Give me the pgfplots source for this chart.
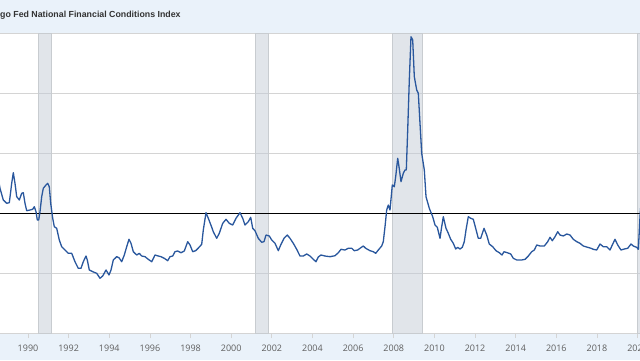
\documentclass[border=0pt]{standalone}
\usepackage{pgfplots}
\pgfplotsset{compat=1.18}
\usepackage{fontspec}
\setmainfont{Open Sans}
\newfontfamily\titlefont{Liberation Sans}
\definecolor{band}{RGB}{234,242,250}
\definecolor{gridc}{RGB}{212,212,212}
\definecolor{shadec}{RGB}{196,204,214}
\definecolor{shadeb}{RGB}{200,204,208}
\definecolor{linec}{RGB}{41,87,157}
\definecolor{titlec}{RGB}{51,51,51}
\definecolor{labc}{RGB}{95,95,95}
\begin{document}
\begin{tikzpicture}[x=1pt,y=1pt]
\begin{scope}
\clip (0,0) rectangle (640,360);
\fill[band] (0,0) rectangle (640,360);
\begin{axis}[at={(0pt,27pt)}, anchor=south west, scale only axis,
  width=640pt, height=300pt,
  xmin=1988.622, xmax=2020.118, ymin=-2, ymax=3,
  axis background/.style={fill=white},
  axis line style={draw=none},
  xtick={1990,1992,...,2020},
  ytick={-2,-1,0,1,2,3}, yticklabels={}, y tick style={draw=none},
  ymajorgrids=true, grid style={gridc, line width=1pt},
  x tick style={draw=gridc, line width=0.8pt},
  xtick pos=lower, tick align=outside, major tick length=5pt,
  /pgf/number format/1000 sep={},
  /pgf/number format/assume math mode=true,
  xticklabel style={font=\fontsize{9}{10}\selectfont, text=labc, anchor=base, yshift=-13.7pt},
]
\addplot[fill=shadec, fill opacity=0.5, draw=shadeb, line width=0.8pt] coordinates {(1990.50,-2) (1990.50,3) (1991.17,3) (1991.17,-2)} -- cycle;
\addplot[fill=shadec, fill opacity=0.5, draw=shadeb, line width=0.8pt] coordinates {(2001.17,-2) (2001.17,3) (2001.83,3) (2001.83,-2)} -- cycle;
\addplot[fill=shadec, fill opacity=0.5, draw=shadeb, line width=0.8pt] coordinates {(2007.92,-2) (2007.92,3) (2009.42,3) (2009.42,-2)} -- cycle;
\addplot[fill=shadec, fill opacity=0.5, draw=shadeb, line width=0.8pt] coordinates {(2019.97,-2) (2019.97,3) (2020.33,3) (2020.33,-2)} -- cycle;
\addplot[black, line width=1pt] coordinates {(1988,0) (2021,0)};
\addplot[linec, line width=1.3pt, line join=round] table {
1988.550 0.550
1988.622 0.412
1988.784 0.217
1988.952 0.162
1989.080 0.172
1989.198 0.495
1989.277 0.672
1989.360 0.495
1989.444 0.272
1989.572 0.217
1989.690 0.328
1989.769 0.338
1989.852 0.162
1989.936 0.038
1990.098 0.050
1990.231 0.062
1990.310 0.105
1990.394 0.022
1990.458 -0.117
1990.527 -0.117
1990.591 0.022
1990.674 0.272
1990.753 0.412
1990.886 0.467
1990.969 0.495
1991.048 0.438
1991.117 0.162
1991.216 -0.088
1991.294 -0.228
1991.412 -0.255
1991.540 -0.450
1991.658 -0.562
1991.821 -0.617
1991.983 -0.672
1992.151 -0.672
1992.313 -0.812
1992.475 -0.922
1992.608 -0.922
1992.721 -0.812
1992.854 -0.717
1992.918 -0.783
1993.017 -0.950
1993.184 -0.978
1993.381 -1.005
1993.543 -1.088
1993.676 -1.050
1993.839 -0.950
1993.986 -1.033
1994.085 -0.950
1994.198 -0.783
1994.365 -0.728
1994.478 -0.745
1994.611 -0.812
1994.739 -0.700
1994.857 -0.562
1994.970 -0.438
1995.069 -0.505
1995.182 -0.645
1995.349 -0.700
1995.477 -0.672
1995.596 -0.717
1995.758 -0.728
1995.920 -0.772
1996.088 -0.812
1996.250 -0.700
1996.413 -0.717
1996.545 -0.728
1996.708 -0.755
1996.875 -0.795
1996.988 -0.728
1997.121 -0.717
1997.234 -0.645
1997.367 -0.633
1997.530 -0.662
1997.692 -0.633
1997.859 -0.478
1997.972 -0.533
1998.105 -0.645
1998.253 -0.628
1998.415 -0.572
1998.548 -0.522
1998.627 -0.283
1998.760 0.005
1998.907 -0.117
1999.055 -0.250
1999.119 -0.312
1999.286 -0.422
1999.414 -0.338
1999.582 -0.172
1999.744 -0.105
1999.906 -0.172
2000.074 -0.200
2000.236 -0.088
2000.433 0.005
2000.566 -0.088
2000.679 -0.200
2000.842 -0.145
2000.960 -0.072
2001.058 -0.255
2001.171 -0.295
2001.334 -0.422
2001.501 -0.488
2001.614 -0.478
2001.713 -0.367
2001.875 -0.383
2001.993 -0.450
2002.156 -0.505
2002.318 -0.628
2002.436 -0.533
2002.598 -0.422
2002.761 -0.367
2002.894 -0.422
2003.056 -0.505
2003.223 -0.605
2003.386 -0.717
2003.548 -0.717
2003.715 -0.683
2003.878 -0.717
2004.040 -0.772
2004.173 -0.812
2004.286 -0.733
2004.419 -0.700
2004.616 -0.717
2004.862 -0.728
2005.108 -0.712
2005.271 -0.662
2005.404 -0.605
2005.600 -0.617
2005.762 -0.588
2005.930 -0.588
2006.058 -0.628
2006.225 -0.617
2006.339 -0.588
2006.501 -0.550
2006.619 -0.588
2006.831 -0.628
2006.993 -0.645
2007.111 -0.672
2007.239 -0.617
2007.406 -0.550
2007.485 -0.478
2007.569 -0.228
2007.652 0.050
2007.731 0.133
2007.815 0.050
2007.928 0.467
2008.026 0.438
2008.095 0.605
2008.194 0.912
2008.258 0.772
2008.356 0.522
2008.470 0.662
2008.553 0.717
2008.617 0.717
2008.686 1.383
2008.765 2.217
2008.848 2.938
2008.932 2.883
2009.011 2.272
2009.129 2.050
2009.208 1.995
2009.291 1.495
2009.375 0.995
2009.503 0.717
2009.587 0.272
2009.749 0.078
2009.916 -0.062
2010.030 -0.200
2010.143 -0.238
2010.276 -0.422
2010.359 -0.228
2010.438 -0.062
2010.571 -0.255
2010.684 -0.338
2010.802 -0.438
2010.930 -0.505
2011.048 -0.600
2011.146 -0.572
2011.260 -0.600
2011.373 -0.572
2011.471 -0.478
2011.555 -0.283
2011.668 -0.062
2011.786 -0.088
2011.914 -0.105
2012.032 -0.255
2012.160 -0.422
2012.278 -0.422
2012.441 -0.255
2012.573 -0.367
2012.701 -0.517
2012.869 -0.562
2013.031 -0.628
2013.194 -0.662
2013.327 -0.700
2013.425 -0.645
2013.588 -0.662
2013.755 -0.683
2013.883 -0.755
2014.050 -0.783
2014.296 -0.783
2014.459 -0.772
2014.621 -0.717
2014.789 -0.645
2014.917 -0.617
2015.035 -0.533
2015.197 -0.550
2015.409 -0.550
2015.576 -0.478
2015.689 -0.405
2015.802 -0.462
2015.935 -0.395
2016.068 -0.312
2016.181 -0.367
2016.344 -0.383
2016.511 -0.350
2016.673 -0.367
2016.836 -0.438
2017.003 -0.478
2017.165 -0.505
2017.328 -0.550
2017.544 -0.572
2017.707 -0.588
2017.820 -0.605
2017.987 -0.617
2018.150 -0.517
2018.312 -0.562
2018.479 -0.562
2018.642 -0.617
2018.755 -0.533
2018.888 -0.438
2019.021 -0.533
2019.183 -0.617
2019.346 -0.600
2019.513 -0.588
2019.676 -0.517
2019.789 -0.550
2019.955 -0.572
2020.035 -0.605
2020.069 -0.395
2020.118 -0.062
2020.216 0.383
};
\end{axis}
\node[anchor=base east, inner sep=0pt, font=\titlefont\bfseries\fontsize{8.8}{10}\selectfont, text=titlec] at (0pt,342.3pt) {Chica};
\node[anchor=base west, inner sep=0pt, font=\titlefont\bfseries\fontsize{8.8}{10}\selectfont, text=titlec] at (0pt,342.3pt) {go Fed National Financial Conditions Index};
\end{scope}
\pgfresetboundingbox
\path[use as bounding box] (0pt,0pt) rectangle (640pt,360pt);
\end{tikzpicture}
\end{document}
